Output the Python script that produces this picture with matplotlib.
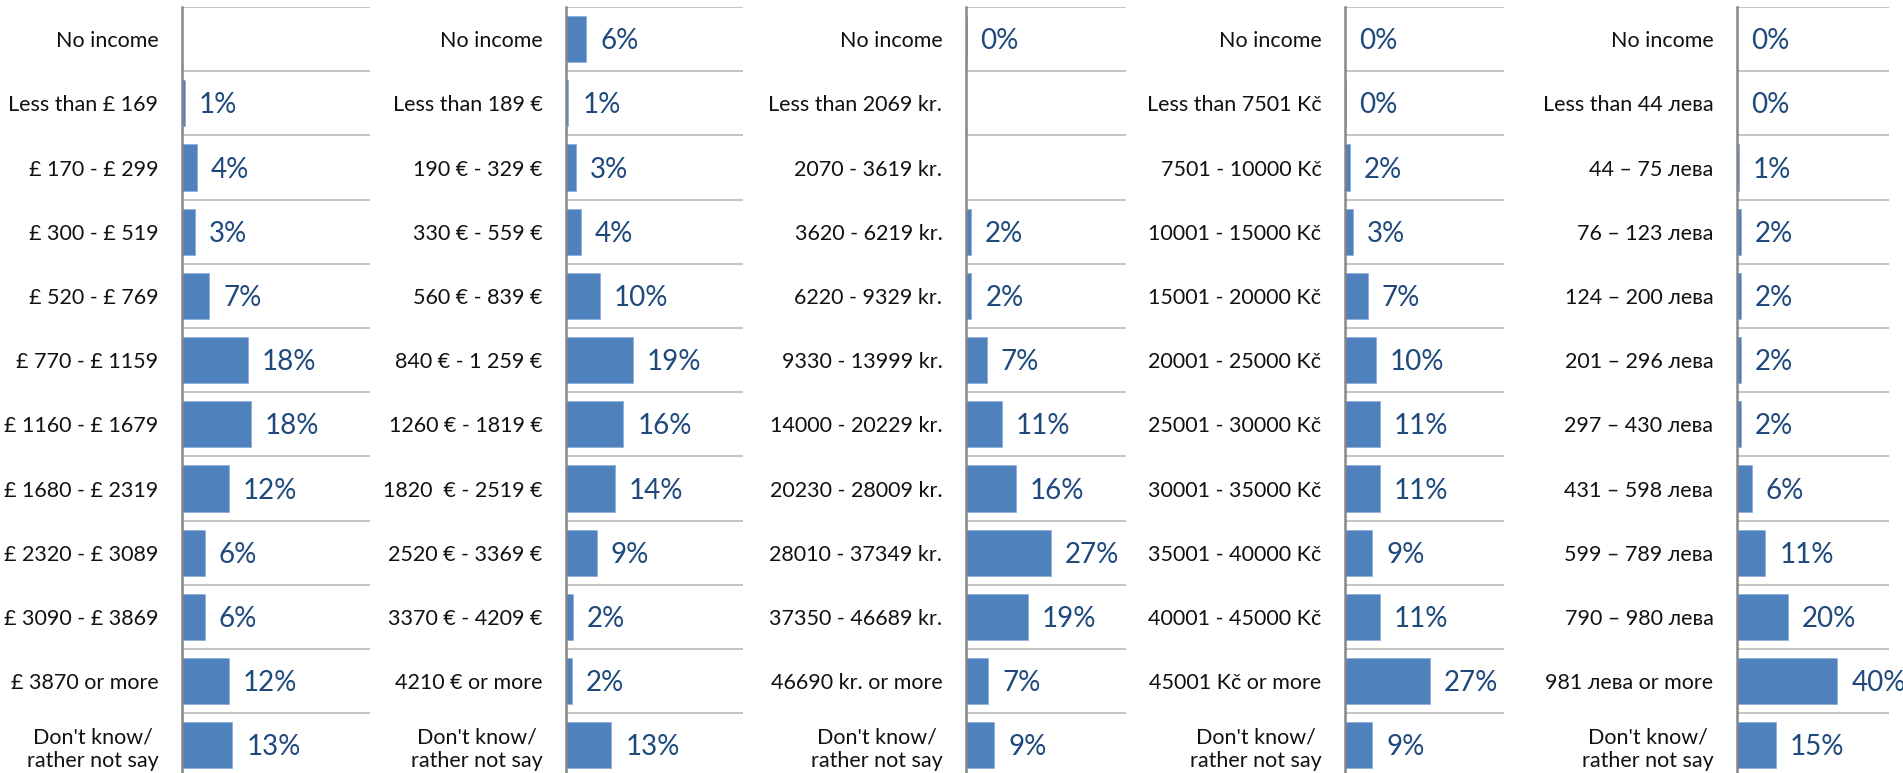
import numpy as np
import matplotlib
matplotlib.use('Agg')
import matplotlib.pyplot as plt

plt.rcParams['font.family'] = ['Lato', 'Noto Sans', 'DejaVu Sans']

# income brackets, one list per country
cats_uk = ["No income", "Less than £ 169", "£ 170 - £ 299", "£ 300 - £ 519", "£ 520 - £ 769",
           "£ 770 - £ 1159", "£ 1160 - £ 1679", "£ 1680 - £ 2319", "£ 2320 - £ 3089",
           "£ 3090 - £ 3869", "£ 3870 or more", "Don't know/\nrather not say"]
cats_eur = ["No income", "Less than 189 €", "190 € - 329 €", "330 € - 559 €", "560 € - 839 €",
            "840 € - 1 259 €", "1260 € - 1819 €", "1820  € - 2519 €", "2520 € - 3369 €",
            "3370 € - 4209 €", "4210 € or more", "Don't know/\nrather not say"]
cats_kr = ["No income", "Less than 2069 kr.", "2070 - 3619 kr.", "3620 - 6219 kr.", "6220 - 9329 kr.",
           "9330 - 13999 kr.", "14000 - 20229 kr.", "20230 - 28009 kr.", "28010 - 37349 kr.",
           "37350 - 46689 kr.", "46690 kr. or more", "Don't know/\nrather not say"]
cats_kc = ["No income", "Less than 7501 Kč", "7501 - 10000 Kč", "10001 - 15000 Kč", "15001 - 20000 Kč",
           "20001 - 25000 Kč", "25001 - 30000 Kč", "30001 - 35000 Kč", "35001 - 40000 Kč",
           "40001 - 45000 Kč", "45001 Kč or more", "Don't know/\nrather not say"]
cats_bg = ["No income", "Less than 44 лева", "44 – 75 лева", "76 – 123 лева", "124 – 200 лева",
           "201 – 296 лева", "297 – 430 лева", "431 – 598 лева", "599 – 789 лева",
           "790 – 980 лева", "981 лева or more", "Don't know/\nrather not say"]

# shares in percent (None = no answer shown)
vals_uk = [None, 0.7, 4.0, 3.4, 7.3, 17.5, 18.3, 12.4, 6.0, 6.0, 12.4, 13.4]
vals_eur = [5.7, 0.7, 2.9, 4.3, 9.5, 19.0, 16.2, 13.9, 8.7, 1.9, 1.6, 12.8]
vals_kr = [0.2, None, None, 1.6, 1.7, 6.5, 11.2, 15.7, 26.6, 19.3, 7.0, 8.9]
vals_kc = [0.1, 0.2, 1.6, 2.6, 7.1, 9.7, 10.9, 10.9, 8.6, 10.9, 26.7, 8.6]
vals_bg = [0.1, 0.1, 0.6, 1.7, 1.7, 1.7, 1.7, 5.9, 11.2, 20.0, 39.6, 15.3]

panels = [(cats_uk, vals_uk, 50), (cats_eur, vals_eur, 50), (cats_kr, vals_kr, 50),
          (cats_kc, vals_kc, 50), (cats_bg, vals_bg, 60)]

W, H = 1903, 773
fig = plt.figure(figsize=(W / 100, H / 100), dpi=100)

# axes placement in pixels: left edge, width
boxes = [(182, 188), (566, 177), (966, 160), (1345, 159), (1737, 152)]
top_px, row_px = 7, 64.2

bar_col = '#4F81BD'
lab_col = '#1F497D'

for (cats, vals, xmax), (lx, wx) in zip(panels, boxes):
    n = len(cats)
    hgt = n * row_px
    ax = fig.add_axes([lx / W, (H - top_px - hgt) / H, wx / W, hgt / H])
    y = np.arange(n)
    v = np.array([np.nan if x is None else x for x in vals])
    ax.barh(y, np.nan_to_num(v), height=0.72, color=bar_col, edgecolor='#8EB0DA', linewidth=0.6, zorder=3)
    for yi, vi in zip(y, v):
        if np.isnan(vi):
            continue
        ax.annotate(f"{int(vi + 0.5)}%", (vi, yi), xytext=(10, -1.5), textcoords='offset points',
                    va='center', ha='left', fontsize=20, color=lab_col, annotation_clip=False)
    for b in np.arange(n + 1) - 0.5:
        ax.axhline(b, color='#BFBFBF', lw=1.3, zorder=1)
    ax.set_xlim(0, xmax)
    ax.set_ylim(n - 0.5, -0.5)
    ax.set_yticks(y)
    ax.set_yticklabels(cats, fontsize=15.5, color='#111111')
    for t in ax.get_yticklabels():
        t.set_multialignment('center')
    ax.tick_params(axis='y', length=0, pad=17)
    ax.set_xticks([])
    for s in ['top', 'right', 'bottom']:
        ax.spines[s].set_visible(False)
    ax.spines['left'].set_color('#868686')
    ax.spines['left'].set_linewidth(1.8)
    ax.spines['left'].set_zorder(4)
    ax.patch.set_alpha(0)

fig.savefig('out.png', dpi=100)
